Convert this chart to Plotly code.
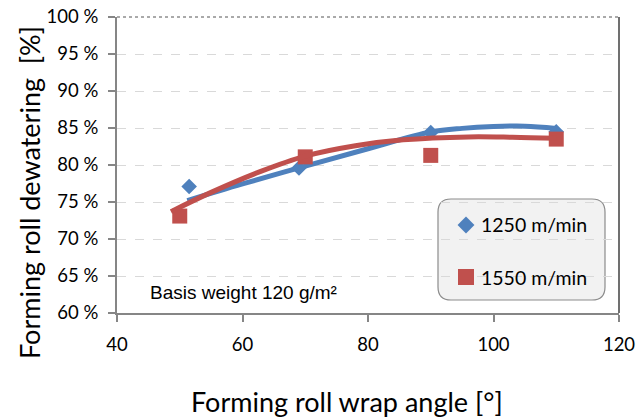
import plotly.graph_objects as go

# Data (measured points)
angle_1250 = [51.5, 69, 90, 110]
dew_1250 = [77.1, 79.6, 84.4, 84.5]
angle_1550 = [50, 70, 90, 110]
dew_1550 = [73.1, 81.1, 81.3, 83.5]

# Trend curves
trend_x_1250 = [51.2, 60, 70, 80, 90, 95, 100, 105, 110]
trend_y_1250 = [75.2, 77.45, 79.85, 82.2, 84.45, 84.95, 85.2, 85.25, 84.95]
trend_x_1550 = [48.6, 55, 62.8, 70, 78, 85.6, 96, 103, 110]
trend_y_1550 = [73.7, 76.3, 79.1, 81.2, 82.6, 83.4, 83.8, 83.75, 83.6]

series_names = ["1250 m/min", "1550 m/min"]
y_ticks = [60, 65, 70, 75, 80, 85, 90, 95, 100]
y_tick_labels = [f"{v} %" for v in y_ticks]
x_ticks = [40, 60, 80, 100, 120]

BLUE = "#4f81bd"
RED = "#c0504d"
FONT = "Lato"

# plot area in pixels
L, R, T, B = 117, 619, 17, 313
W, H = 636, 420
def px(x):
    return (x - L) / (R - L)
def py(y):
    return (B - y) / (B - T)

fig = go.Figure()
fig.add_trace(go.Scatter(x=angle_1250, y=dew_1250, mode="markers", name=series_names[0],
                         marker=dict(symbol="diamond", size=12, color=BLUE)))
fig.add_trace(go.Scatter(x=trend_x_1250, y=trend_y_1250, mode="lines",
                         line=dict(color=BLUE, width=5, shape="spline"), hoverinfo="skip"))
fig.add_trace(go.Scatter(x=angle_1550, y=dew_1550, mode="markers", name=series_names[1],
                         marker=dict(symbol="square", size=15, color=RED)))
fig.add_trace(go.Scatter(x=trend_x_1550, y=trend_y_1550, mode="lines",
                         line=dict(color=RED, width=5, shape="spline"), hoverinfo="skip"))

# legend markers (overlay axis in paper-like units)
fig.add_trace(go.Scatter(x=[px(466)], y=[py(225)], xaxis="x2", yaxis="y2", mode="markers",
                         marker=dict(symbol="diamond", size=13, color=BLUE), hoverinfo="skip"))
fig.add_trace(go.Scatter(x=[px(466)], y=[py(277)], xaxis="x2", yaxis="y2", mode="markers",
                         marker=dict(symbol="square", size=16, color=RED), hoverinfo="skip"))

# rounded legend box
x0, x1, y0, y1, r = 438, 605, 199, 300, 13
def P(x, y):
    return f"{px(x):.5f},{py(y):.5f}"
path = (f"M {P(x0+r, y0)} L {P(x1-r, y0)} Q {P(x1, y0)} {P(x1, y0+r)} "
        f"L {P(x1, y1-r)} Q {P(x1, y1)} {P(x1-r, y1)} L {P(x0+r, y1)} "
        f"Q {P(x0, y1)} {P(x0, y1-r)} L {P(x0, y0+r)} Q {P(x0, y0)} {P(x0+r, y0)} Z")

shapes = [
    dict(type="path", xref="paper", yref="paper", path=path,
         fillcolor="#f2f2f2", line=dict(color="#8c8c8c", width=1.2), layer="below"),
    dict(type="line", xref="paper", yref="paper", x0=0, x1=1, y0=1, y1=1,
         line=dict(color="#555555", width=1, dash="dot")),
    dict(type="line", xref="paper", yref="paper", x0=1, x1=1, y0=0, y1=1,
         line=dict(color="#404040", width=1.5)),
]

fig.update_layout(
    template="none",
    width=W, height=H,
    margin=dict(l=L, r=W - R, t=T, b=H - B, pad=0),
    paper_bgcolor="white", plot_bgcolor="white",
    font=dict(family=FONT, color="black"),
    showlegend=False,
    shapes=shapes,
    xaxis=dict(range=[40, 120], tickvals=x_ticks, showgrid=False, zeroline=False,
               showline=True, linecolor="#868686", linewidth=2, automargin=False,
               ticks="outside", ticklen=7, tickwidth=2, tickcolor="#868686",
               ticklabelstandoff=7,
               tickfont=dict(size=18.5, family=FONT)),
    yaxis=dict(range=[60, 100], tickvals=y_ticks, ticktext=y_tick_labels,
               showgrid=True, gridcolor="#d9d9d9", griddash="dash", gridwidth=1,
               zeroline=False, showline=True, linecolor="#868686", linewidth=2,
               automargin=False, ticklabelstandoff=6,
               ticks="outside", ticklen=7, tickwidth=2, tickcolor="#868686",
               tickfont=dict(size=18.5, family=FONT)),
    xaxis2=dict(overlaying="x", range=[0, 1], visible=False, fixedrange=True),
    yaxis2=dict(overlaying="y", range=[0, 1], visible=False, fixedrange=True),
    annotations=[
        dict(text="Forming roll dewatering  [%]", xref="paper", yref="paper",
             x=px(30), y=py(193), textangle=-90, showarrow=False,
             font=dict(size=27, family=FONT), xanchor="center", yanchor="middle"),
        dict(text="Forming roll wrap angle [°]", xref="paper", yref="paper",
             x=px(347), y=py(401), showarrow=False,
             font=dict(size=27, family=FONT), xanchor="center", yanchor="middle"),
        dict(text="Basis weight 120 g/m²", xref="paper", yref="paper",
             x=px(148), y=py(292), showarrow=False,
             font=dict(size=19, family="Liberation Sans"), xanchor="left", yanchor="middle"),
        dict(text=series_names[0], xref="paper", yref="paper",
             x=px(479), y=py(225), showarrow=False,
             font=dict(size=19.5, family=FONT), xanchor="left", yanchor="middle"),
        dict(text=series_names[1], xref="paper", yref="paper",
             x=px(479), y=py(277), showarrow=False,
             font=dict(size=19.5, family=FONT), xanchor="left", yanchor="middle"),
    ],
)

fig.write_html("out.html")
